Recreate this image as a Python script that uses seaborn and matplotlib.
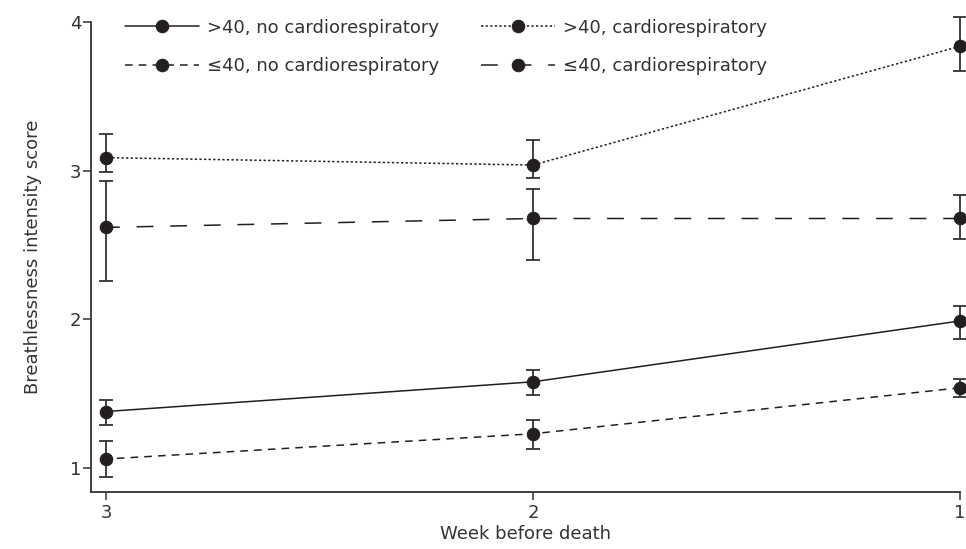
import pandas as pd
import matplotlib
matplotlib.use("Agg")
import matplotlib.pyplot as plt
import seaborn as sns

# weeks before death
weeks = [3, 2, 1]

# >40, no cardiorespiratory
gt40_no = [1.38, 1.58, 1.99]
gt40_no_lo = [1.29, 1.49, 1.87]
gt40_no_hi = [1.46, 1.66, 2.09]

# <=40, no cardiorespiratory
le40_no = [1.06, 1.23, 1.54]
le40_no_lo = [0.94, 1.13, 1.48]
le40_no_hi = [1.18, 1.32, 1.60]

# >40, cardiorespiratory
gt40_cr = [3.09, 3.04, 3.84]
gt40_cr_lo = [2.99, 2.95, 3.67]
gt40_cr_hi = [3.25, 3.21, 4.04]

# <=40, cardiorespiratory
le40_cr = [2.62, 2.68, 2.68]
le40_cr_lo = [2.26, 2.40, 2.54]
le40_cr_hi = [2.93, 2.88, 2.84]

labels = [">40, no cardiorespiratory", "\u226440, no cardiorespiratory",
          ">40, cardiorespiratory", "\u226440, cardiorespiratory"]

sns.set_style("ticks")
plt.rcParams['font.family'] = ['DejaVu Sans']

ink = "#231f20"
grey = "#333333"

fig = plt.figure(figsize=(9.66, 5.49), dpi=100)
ax = fig.add_axes([91 / 966, 1 - 492 / 549, (960 - 91) / 966, (492 - 22.5) / 549])

series = [
    (gt40_no, gt40_no_lo, gt40_no_hi, "-"),
    (le40_no, le40_no_lo, le40_no_hi, (0, (5, 4))),
    (gt40_cr, gt40_cr_lo, gt40_cr_hi, (0, (1.5, 1.5))),
    (le40_cr, le40_cr_lo, le40_cr_hi, (0, (11, 11))),
]

for (mean, lo, hi, ls), lab in zip(series, labels):
    df = pd.DataFrame({"week": weeks, "score": mean})
    yerr = [[m - l for m, l in zip(mean, lo)], [h - m for m, h in zip(mean, hi)]]
    ax.errorbar(weeks, mean, yerr=yerr, fmt="none", ecolor=grey,
                elinewidth=1.3, capsize=5, capthick=1.3, clip_on=False, zorder=2)
    sns.lineplot(data=df, x="week", y="score", ax=ax, color=ink, linestyle=ls,
                 linewidth=1.1, marker="o", markersize=9, markeredgecolor=ink,
                 markerfacecolor=ink, label=lab, errorbar=None, clip_on=False,
                 zorder=3, legend=False)

ax.set_xlim(3.035, 1.0)
ax.set_ylim(0.838, 4.0)
ax.set_xticks([3, 2, 1])
ax.set_xticklabels(["3", "2", "1"])
ax.set_yticks([1, 2, 3, 4])
ax.tick_params(axis="both", labelsize=13, length=6, width=1.1, color=grey,
               labelcolor=grey, pad=3)
ax.tick_params(axis="y", pad=1)
for s in ["left", "bottom"]:
    ax.spines[s].set_linewidth(1.3)
    ax.spines[s].set_color(grey)
sns.despine(ax=ax)

ax.set_xlabel("Week before death", fontsize=13, color=grey, labelpad=2)
ax.set_ylabel("Breathlessness intensity score", fontsize=13, color=grey, labelpad=20)

handles, labs = ax.get_legend_handles_labels()
ax.legend(handles, labs, ncol=2, frameon=False, fontsize=13, loc="upper left",
          bbox_to_anchor=(0.02, 1.043), handlelength=4.1, handletextpad=0.45,
          columnspacing=2.35, labelspacing=1.13, numpoints=1, labelcolor=grey)

plt.savefig("out.png", dpi=100)
plt.close()
